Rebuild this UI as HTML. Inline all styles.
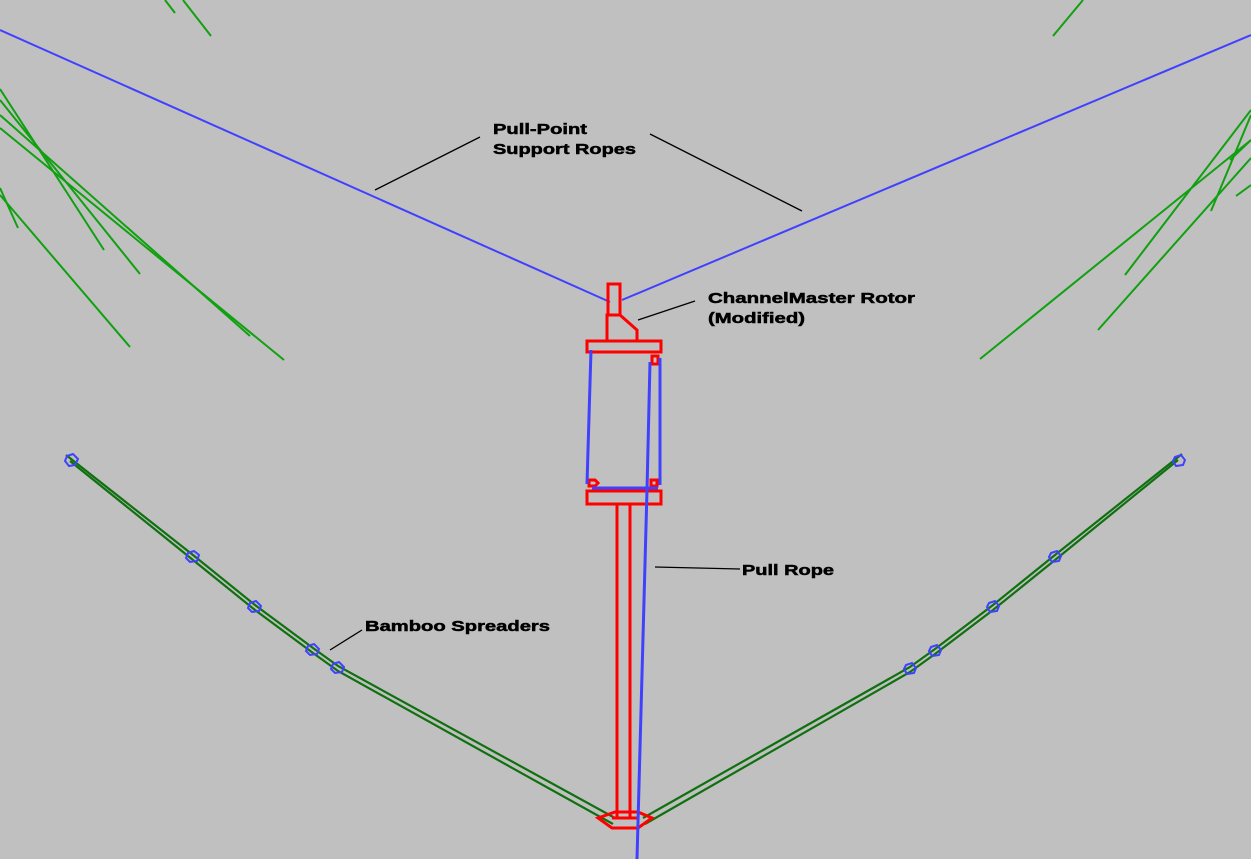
<!DOCTYPE html>
<html><head><meta charset="utf-8"><style>html,body{margin:0;padding:0;background:#c0c0c0;}svg{display:block}</style></head>
<body>
<svg width="1251" height="859" viewBox="0 0 1251 859" xmlns="http://www.w3.org/2000/svg">
<rect width="1251" height="859" fill="#c0c0c0"/>
<g stroke="#10a010" stroke-width="2" fill="none">
<line x1="165" y1="0" x2="175" y2="13"/><line x1="183" y1="0" x2="211" y2="36"/>
<line x1="0" y1="89" x2="104" y2="250"/><line x1="0" y1="100" x2="140" y2="274"/>
<line x1="0" y1="115" x2="250" y2="336"/><line x1="0" y1="128" x2="284" y2="360"/>
<line x1="0" y1="195" x2="130" y2="347"/><line x1="0" y1="188" x2="18" y2="228"/>
<line x1="1083" y1="0" x2="1053" y2="36"/>
<line x1="980" y1="359" x2="1251" y2="140"/><line x1="1125" y1="275" x2="1251" y2="110"/>
<line x1="1098" y1="330" x2="1251" y2="158"/><line x1="1211" y1="211" x2="1251" y2="115"/>
<line x1="1236" y1="196" x2="1251" y2="185"/><line x1="1230" y1="160" x2="1251" y2="140"/>
</g>
<g stroke="#107010" stroke-width="2.2" fill="none">
<polyline points="66,455 193,555 255,605 313,648 338,666 615,818"/>
<polyline points="70,461 193,560 255,610 313,653 338,671 613,824"/>
<polyline points="1182,454 1055,555 993,605 935,649 910,667 643,818"/>
<polyline points="1178,460 1055,560 993,610 935,654 910,672 645,824"/>
</g>
<g stroke="#4040ff" stroke-width="2" fill="none">
<polygon points="67,456 73,454 78,459 75,465 69,466 65,461"/>
<polygon points="188,553 194,551 199,555 197,561 190,562 186,558"/>
<polygon points="250,603 256,601 261,606 259,611 252,612 248,608"/>
<polygon points="308,646 314,644 319,649 317,654 310,655 306,651"/>
<polygon points="333,664 339,662 344,667 342,672 335,673 331,669"/>
<polygon points="1175,457 1181,455 1185,460 1183,465 1176,466 1173,461"/>
<polygon points="1051,553 1057,551 1061,556 1059,561 1052,562 1049,557"/>
<polygon points="989,603 995,601 999,606 997,611 990,612 987,607"/>
<polygon points="931,647 937,645 941,650 939,655 932,656 929,651"/>
<polygon points="906,665 912,663 916,668 914,673 907,674 904,669"/>
<line x1="0" y1="30" x2="610" y2="302"/><line x1="622" y1="300" x2="1251" y2="35"/>
</g>
<g stroke="#ff0000" stroke-width="3" fill="none">
<rect x="608" y="284" width="12" height="31"/>
<polyline points="607,341 607,315 620,315 637,330 637,341"/>
<rect x="587" y="341" width="74" height="11"/>
<rect x="587" y="491" width="74" height="13"/>
<rect x="652" y="356" width="6" height="8"/>
<path d="M589,486 v-6 h6 l3,3 l-3,3 z M651,486 v-6 h6 v6 z"/>
<line x1="617" y1="504" x2="617" y2="818"/><line x1="630" y1="504" x2="630" y2="818"/>
<polygon points="598,818 615,812 638,812 652,818 638,828 612,828"/>
<line x1="612" y1="818" x2="638" y2="818"/>
</g>
<g stroke="#4040ff" stroke-width="3" fill="none">
<line x1="591" y1="350" x2="587" y2="484"/>
<line x1="660" y1="358" x2="660" y2="485"/>
<line x1="592" y1="488" x2="658" y2="488"/>
<polyline points="650,362 647,490 637,859"/>
</g>
<g stroke="#000" stroke-width="1.3">
<line x1="375" y1="190" x2="480" y2="137"/><line x1="650" y1="134" x2="802" y2="211"/>
<line x1="638" y1="320" x2="695" y2="301"/><line x1="655" y1="567" x2="740" y2="569"/>
<line x1="330" y1="650" x2="362" y2="630"/>
</g>
<g font-family="Liberation Sans, Arial, sans-serif" font-weight="bold" font-size="15" fill="#000" stroke="#000" stroke-width="0.5">
<text x="493" y="134" textLength="94" lengthAdjust="spacingAndGlyphs">Pull-Point</text>
<text x="493" y="154" textLength="143" lengthAdjust="spacingAndGlyphs">Support Ropes</text>
<text x="708" y="303" textLength="207" lengthAdjust="spacingAndGlyphs">ChannelMaster Rotor</text>
<text x="708" y="323" textLength="97" lengthAdjust="spacingAndGlyphs">(Modified)</text>
<text x="742" y="575" textLength="92" lengthAdjust="spacingAndGlyphs">Pull Rope</text>
<text x="365" y="631" textLength="185" lengthAdjust="spacingAndGlyphs">Bamboo Spreaders</text>
</g>
</svg>
</body></html>
